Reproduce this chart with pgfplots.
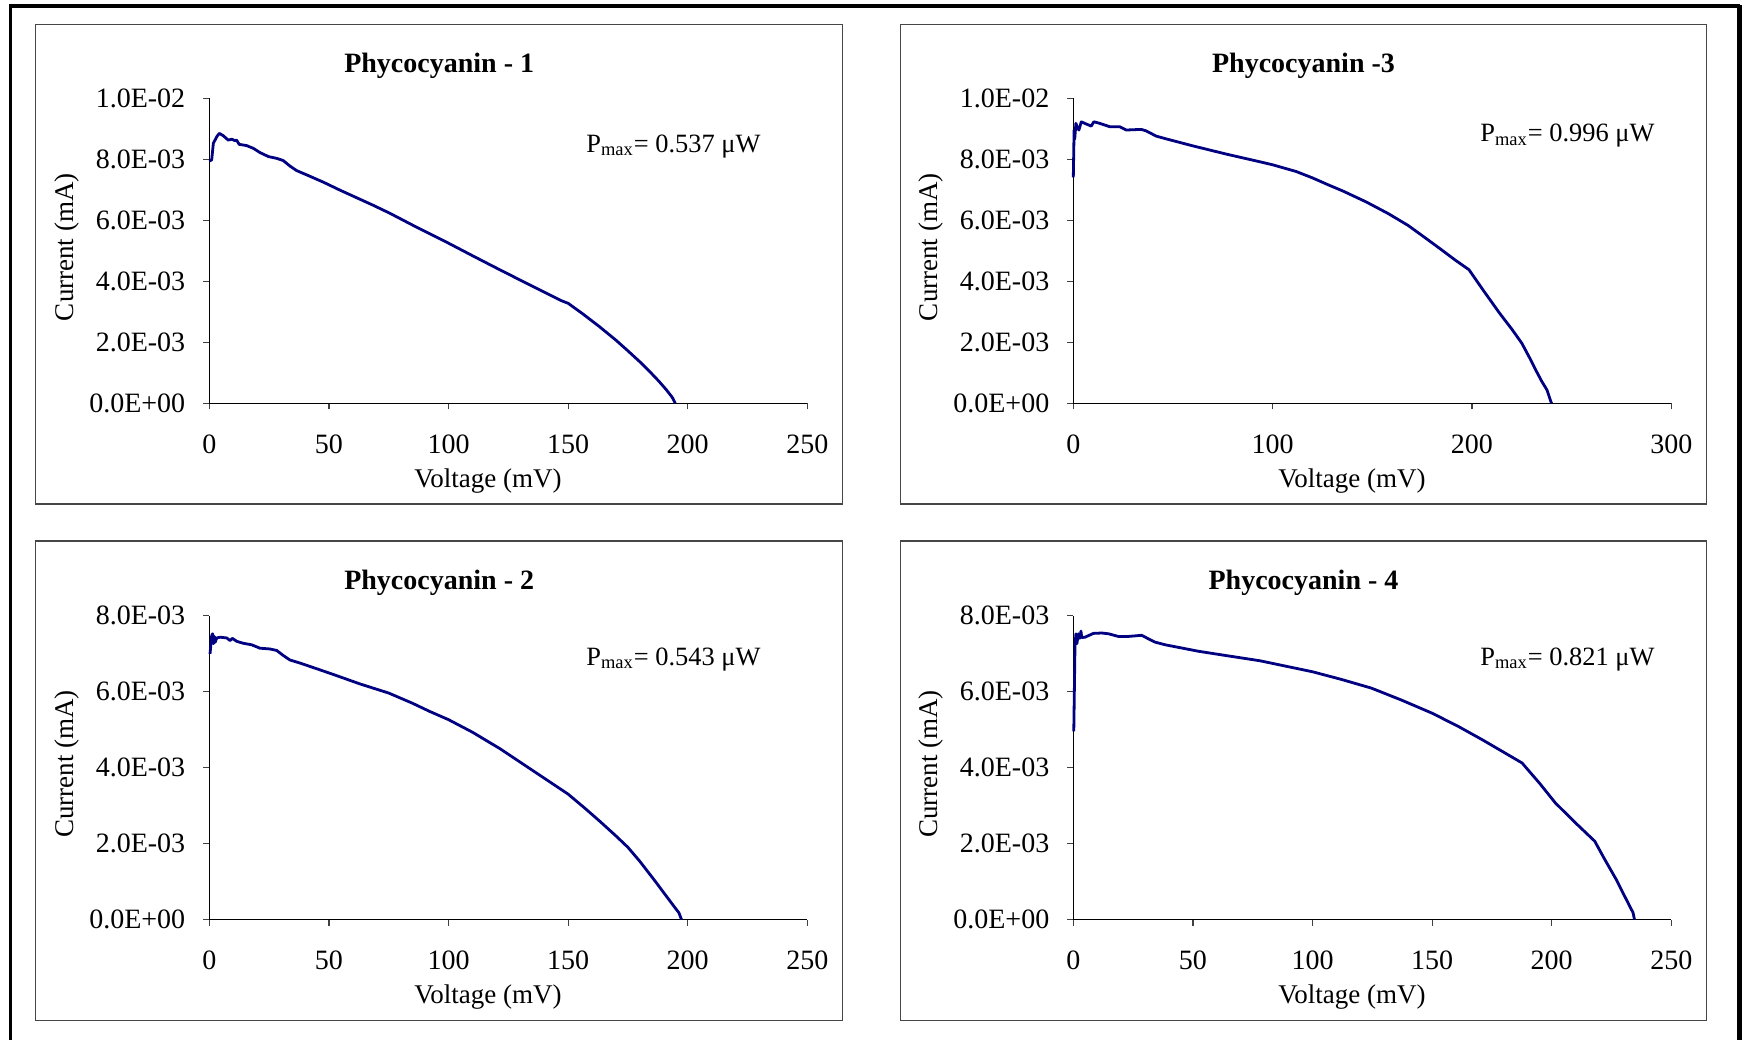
\documentclass[border=0pt]{standalone}
\usepackage{fontspec}
\setmainfont{Liberation Serif}
\usepackage{pgfplots}
\pgfplotsset{compat=1.18}

\definecolor{ivline}{RGB}{0,0,128}
\definecolor{framegray}{RGB}{70,70,70}

\pgfplotsset{
  ivplot/.style={
    scale only axis, width=299pt, height=152.5pt,
    anchor=south west,
    axis lines*=left, axis line style={black, line width=0.6pt, -},
    tick align=outside, major tick length=3pt,
    tick style={line width=0.6pt, black!75},
    xmin=0, ymin=0,
    scaled ticks=false, clip=false,
    /pgf/number format/assume math mode=true,
    tick label style={font=\fontsize{14}{16}\selectfont},
    xticklabel style={yshift=-9.2pt},
    yticklabel style={xshift=-5.5pt},
    label style={font=\fontsize{13.5}{16}\selectfont},
    xlabel={Voltage (mV)},
    ylabel={Current (mA)},
    xlabel style={at={(axis description cs:0.466,-0.256)}, anchor=center},
    ylabel style={at={(axis description cs:-0.2386,0.512)}, anchor=center},
  },
  ivcurve/.style={ivline, line width=1.4pt, mark=none, line join=round},
  ytop/.style={ymax=0.01, ytick={0,0.002,0.004,0.006,0.008,0.01},
    yticklabels={0.0E+00,2.0E-03,4.0E-03,6.0E-03,8.0E-03,1.0E-02}},
  ybot/.style={ymax=0.008, height=152pt, ytick={0,0.002,0.004,0.006,0.008},
    yticklabels={0.0E+00,2.0E-03,4.0E-03,6.0E-03,8.0E-03}},
}

\begin{document}
\begin{tikzpicture}[x=0.5pt,y=-0.5pt]
\useasboundingbox (0,0) rectangle (1743,1039);
% outer frame
\draw[line width=1.8pt] (10.5,1050) -- (10.5,5.8) -- (1739.5,5.8);
\draw[line width=2.4pt] (1739.5,5) -- (1739.5,1050);
% panel frames
\draw[framegray, line width=0.7pt] (35.7,24.3) rectangle (842.7,504);
\draw[framegray, line width=0.7pt] (900.3,24.3) rectangle (1706.7,504);
\draw[framegray, line width=0.7pt] (35.7,541) rectangle (842.7,1020.7);
\draw[framegray, line width=0.7pt] (900.3,541) rectangle (1706.7,1020.7);

% Phycocyanin - 1
\begin{axis}[ivplot, ytop, at={(104.65pt,-201.65pt)}, xmax=250, xtick={0,50,100,150,200,250}]
\addplot[ivcurve] coordinates {
(0,0.00794) (1.0,0.00798) (1.7,0.00853) (2.4,0.00863) (3.1,0.00874) (4.2,0.00885)
(5.9,0.00877) (7.9,0.00863) (9.4,0.00866) (10.7,0.00861) (11.4,0.00863) (12.5,0.00849)
(15.6,0.00845) (18.4,0.00836) (21.2,0.00822) (24.7,0.00809) (28.2,0.00803) (30.9,0.00796)
(33.7,0.00778) (36.5,0.00763) (40.7,0.00749) (47.7,0.00725) (54.6,0.00699) (61.6,0.00674)
(68.6,0.00649) (75.5,0.00623) (87,0.00576) (100,0.00525) (111,0.00480) (121.4,0.00438)
(135.3,0.00383) (147,0.00337) (150,0.00328) (156,0.00294) (163,0.00252) (170,0.00207)
(175,0.00172) (180,0.00136) (184,0.00105) (188,0.00072) (191,0.00045) (193.5,0.0002)
(194.8,0.0)
};
\end{axis}

% Phycocyanin -3
\begin{axis}[ivplot, ytop, at={(536.65pt,-201.65pt)}, xmax=300, xtick={0,100,200,300}]
\addplot[ivcurve] coordinates {
(0,0.00741) (0.4,0.00896) (0.7,0.00866) (1.3,0.00918) (2.0,0.00905) (2.8,0.00896)
(4.0,0.00923) (5.7,0.00918) (7.5,0.00913) (9.0,0.00909) (10.3,0.00923) (13.2,0.00918)
(18.2,0.00907) (23.2,0.00907) (26.6,0.00896) (30,0.00897) (34.1,0.00898) (36.6,0.00893)
(41.6,0.00876) (46.6,0.00867) (60,0.00844) (76.8,0.00817) (93.5,0.00792) (100,0.00782)
(111.8,0.00760) (120,0.00739) (128,0.00716) (135.6,0.00695) (147,0.00660) (158,0.00622)
(168,0.00583) (177.5,0.00538) (185,0.00502) (191.5,0.0047) (198.5,0.00438) (205.5,0.00372)
(213.9,0.00295) (220,0.00243) (225,0.00197) (229,0.00148) (232,0.00109) (235,0.00072)
(237.6,0.00044) (239.6,0.00005) (240,0)
};
\end{axis}

% Phycocyanin - 2
\begin{axis}[ivplot, ybot, at={(104.65pt,-459.75pt)}, xmax=250, xtick={0,50,100,150,200,250}]
\addplot[ivcurve] coordinates {
(0.3,0.00699) (1.0,0.00747) (1.4,0.00752) (1.8,0.00726) (2.1,0.00745) (2.5,0.0073)
(3.1,0.00741) (4.5,0.00743) (7.3,0.00741) (8.7,0.00734) (9.6,0.0074) (11.5,0.00732)
(14.2,0.00727) (17.7,0.00723) (21.2,0.00714) (25.4,0.00712) (28.2,0.00708) (30.9,0.00695)
(33.7,0.00683) (37.9,0.00675) (44.9,0.0066) (51.8,0.00645) (63,0.00620) (75,0.00596)
(85,0.00569) (92,0.00548) (100,0.00526) (110,0.00493) (121.4,0.0045) (135,0.00393)
(150,0.0033) (157,0.00293) (163,0.0026) (170,0.0022) (175,0.0019) (180,0.00153)
(186.5,0.001) (191,0.00062) (194.7,0.00031) (196.3,0.00018) (197.4,0.0)
};
\end{axis}

% Phycocyanin - 4
\begin{axis}[ivplot, ybot, at={(536.65pt,-459.75pt)}, xmax=250, xtick={0,50,100,150,200,250}]
\addplot[ivcurve] coordinates {
(0.2,0.00495) (0.7,0.00721) (1.1,0.00752) (1.5,0.00726) (2.1,0.00752) (2.7,0.0074)
(3.2,0.00759) (3.5,0.00742) (4.9,0.00743) (8.4,0.00753) (11.9,0.00754) (14.7,0.00752)
(18.8,0.00745) (23,0.00745) (28.6,0.00748) (30.7,0.00741) (34.2,0.0073) (38.4,0.00723)
(52.3,0.00706) (63.5,0.00695) (78,0.00681) (100,0.00652) (112,0.00632) (124.6,0.00609)
(137,0.00578) (150,0.00543) (161,0.00508) (171,0.00473) (180,0.0044) (187.6,0.00412)
(195,0.00358) (201.5,0.00307) (210,0.00254) (218,0.00206) (222,0.0016) (227,0.00105)
(231,0.00055) (234,0.00018) (234.6,0.0)
};
\end{axis}

% titles and annotations
\begin{scope}[every node/.style={anchor=base}]
\node[font=\bfseries\fontsize{14}{16}\selectfont] at (439.2,72) {Phycocyanin - 1};
\node[font=\bfseries\fontsize{14}{16}\selectfont] at (1303.5,72) {Phycocyanin -3};
\node[font=\bfseries\fontsize{14}{16}\selectfont] at (439.2,589.5) {Phycocyanin - 2};
\node[font=\bfseries\fontsize{14}{16}\selectfont] at (1303.5,589.5) {Phycocyanin - 4};
\end{scope}
\begin{scope}[every node/.style={anchor=base west, inner sep=0pt, font=\fontsize{13.2}{16}\selectfont}]
\node at (586,152.3) {P\textsubscript{max}= 0.537 μW};
\node at (1480,141.5) {P\textsubscript{max}= 0.996 μW};
\node at (586,665) {P\textsubscript{max}= 0.543 μW};
\node at (1480,665) {P\textsubscript{max}= 0.821 μW};
\end{scope}
\end{tikzpicture}
\end{document}
